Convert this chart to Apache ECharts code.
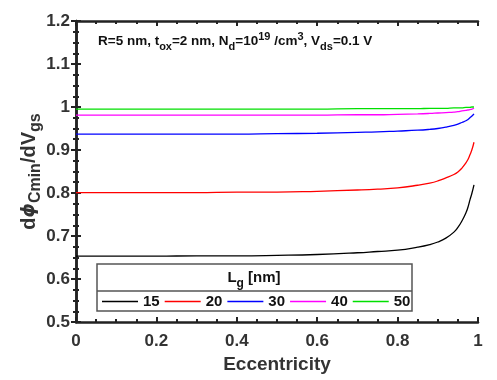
<!DOCTYPE html>
<html>
<head>
<meta charset="utf-8">
<script src="https://cdn.jsdelivr.net/npm/echarts@6/dist/echarts.min.js"></script>
<style>
  html, body { margin: 0; padding: 0; background: #fff; }
  #chart { width: 497px; height: 380px; }
</style>
</head>
<body>
<div id="chart"></div>
<script>
// eccentricity sample points
const ecc = [0, 0.1, 0.2, 0.3, 0.4, 0.5, 0.6, 0.7, 0.75, 0.8, 0.85, 0.88, 0.9, 0.92, 0.94, 0.95, 0.96, 0.97, 0.975, 0.98, 0.985, 0.99];

// dphi_Cmin/dVgs for each gate length
const lg15 = [0.653, 0.653, 0.653, 0.654, 0.654, 0.655, 0.657, 0.661, 0.664, 0.667, 0.674, 0.680, 0.686, 0.695, 0.709, 0.720, 0.735, 0.754, 0.767, 0.784, 0.800, 0.819];
const lg20 = [0.801, 0.801, 0.801, 0.801, 0.802, 0.802, 0.804, 0.807, 0.809, 0.812, 0.818, 0.823, 0.828, 0.835, 0.843, 0.849, 0.858, 0.870, 0.878, 0.889, 0.901, 0.918];
const lg30 = [0.937, 0.937, 0.937, 0.937, 0.937, 0.938, 0.939, 0.941, 0.942, 0.944, 0.946, 0.948, 0.950, 0.953, 0.957, 0.960, 0.964, 0.968, 0.971, 0.975, 0.979, 0.984];
const lg40 = [0.981, 0.981, 0.981, 0.981, 0.981, 0.981, 0.981, 0.982, 0.982, 0.983, 0.984, 0.985, 0.986, 0.987, 0.988, 0.989, 0.991, 0.992, 0.993, 0.994, 0.995, 0.997];
const lg50 = [0.995, 0.995, 0.995, 0.995, 0.995, 0.995, 0.995, 0.996, 0.996, 0.996, 0.996, 0.997, 0.997, 0.997, 0.998, 0.998, 0.998, 0.999, 0.999, 0.999, 1.0, 1.0];

const names = ["15", "20", "30", "40", "50"];
const values = [lg15, lg20, lg30, lg40, lg50];
const colors = ["#000000", "#ff0000", "#0000ff", "#ff00ff", "#00e000"];

const font = "Arial, 'Liberation Sans', sans-serif";
const axisColor = "#222";

const chart = echarts.init(document.getElementById("chart"));

const frameAxis = {
  axisLine: { show: true, lineStyle: { color: axisColor, width: 2.5 } },
  axisTick: { show: true, inside: true, length: 5, lineStyle: { color: axisColor, width: 2 } },
  minorTick: { show: true, splitNumber: 4, length: 3, lineStyle: { color: axisColor, width: 2 } },
  splitLine: { show: false },
};

chart.setOption({
  animation: false,
  color: colors,
  grid: { left: 76, right: 19, top: 21, bottom: 58, containLabel: false, outerBoundsMode: "none" },
  title: {
    left: 93,
    top: 25,
    text: "R=5 nm, t{sub|ox}=2 nm, N{sub|d}=10{sup|19} /cm{sup|3}, V{sub|ds}=0.1 V",
    textStyle: {
      fontFamily: font, fontWeight: "bold", fontSize: 13.5, color: "#111",
      rich: {
        sub: { fontFamily: font, fontWeight: "bold", fontSize: 11, color: "#111", padding: [11, 0, 0, 0] },
        sup: { fontFamily: font, fontWeight: "bold", fontSize: 11, color: "#111", padding: [0, 0, 9, 0] },
      },
    },
  },
  legend: {
    left: 102,
    top: 294,
    padding: 0,
    icon: "rect",
    itemWidth: 36,
    itemHeight: 1.5,
    itemGap: 5,
    data: names,
    textStyle: { fontFamily: font, fontWeight: "bold", fontSize: 15, color: "#111" },
  },
  xAxis: [
    {
      ...frameAxis,
      type: "value",
      min: 0, max: 1, interval: 0.2,
      name: "Eccentricity",
      nameLocation: "middle",
      nameGap: 28,
      nameTextStyle: { fontFamily: font, fontWeight: "bold", fontSize: 19, color: "#333" },
      axisLabel: { fontFamily: font, fontWeight: "bold", fontSize: 17, color: "#333", margin: 11 },
    },
    {
      ...frameAxis,
      type: "value", position: "top",
      min: 0, max: 1, interval: 0.2,
      axisLabel: { show: false },
    },
  ],
  yAxis: [
    {
      ...frameAxis,
      type: "value",
      min: 0.5, max: 1.2, interval: 0.1,
      name: "d{phi|\u03d5}{sub|Cmin}/dV{sub|gs}",
      nameLocation: "middle",
      nameGap: 32,
      nameMoveOverlap: false,
      nameTextStyle: {
        fontFamily: font, fontWeight: "bold", fontSize: 20, color: "#333",
        rich: {
          phi: { fontFamily: "'DejaVu Sans', sans-serif", fontStyle: "italic", fontSize: 18, color: "#333" },
          sub: { fontFamily: font, fontWeight: "bold", fontSize: 16, color: "#333", padding: [14, 0, 0, 0] },
        },
      },
      axisLabel: { fontFamily: font, fontWeight: "bold", fontSize: 17, color: "#333", margin: 6 },
    },
    {
      ...frameAxis,
      type: "value", position: "right",
      min: 0.5, max: 1.2, interval: 0.1,
      axisLabel: { show: false },
    },
  ],
  graphic: [
    {
      type: "rect",
      shape: { x: 97, y: 264, width: 315, height: 47 },
      style: { fill: "#fff", stroke: "#555", lineWidth: 1.5 },
      z: 0,
    },
    {
      type: "line",
      shape: { x1: 97, y1: 291, x2: 412, y2: 291 },
      style: { stroke: "#555", lineWidth: 1.5 },
      z: 1,
    },
    {
      type: "text",
      x: 254, y: 278,
      style: {
        text: "L{sub|g} [nm]",
        fontFamily: font, fontWeight: "bold", fontSize: 15, fill: "#111",
        align: "center", verticalAlign: "middle",
        rich: { sub: { fontFamily: font, fontWeight: "bold", fontSize: 12, fill: "#111", padding: [11, 0, 0, 0] } },
      },
      z: 1,
    },
  ],
  series: names.map((n, i) => ({
    name: n,
    type: "line",
    showSymbol: false,
    symbol: "none",
    smooth: true,
    lineStyle: { width: 1.3, color: colors[i] },
    data: ecc.map((e, k) => [e, values[i][k]]),
    z: 2,
  })),
});
</script>
</body>
</html>
